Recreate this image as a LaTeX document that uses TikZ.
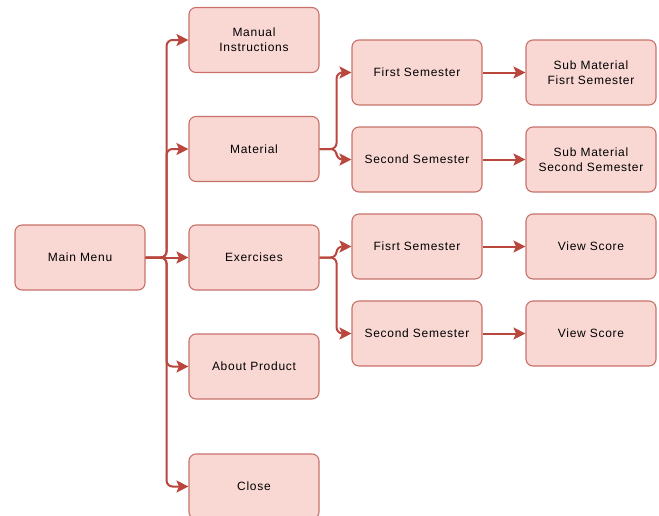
\documentclass[tikz,border=0pt]{standalone}
\usepackage{fontspec}
\setmainfont{Liberation Sans}[LetterSpace=6]
\usetikzlibrary{arrows.meta}
\definecolor{boxfill}{HTML}{F9D8D4}
\definecolor{boxline}{HTML}{C8716A}
\definecolor{arr}{HTML}{B9473E}
\begin{document}
\begin{tikzpicture}[x=1pt,y=-1pt,
  box/.style={draw=boxline, fill=boxfill, line width=1.1pt, rounded corners=7pt,
    minimum width=130pt, minimum height=65pt, align=center,
    font=\fontsize{12}{15}\selectfont, inner sep=0pt},
  conn/.style={draw=arr, line width=2pt, rounded corners=6pt,
    -{Stealth[length=12pt,width=12pt,inset=2.5pt]}}]
\useasboundingbox (0,0) rectangle (659,515);
\node[box] (mm) at (80,257.5) {Main Menu};
\node[box] (mi) at (254,40) {Manual\\Instructions};
\node[box] (mat) at (254,149) {Material};
\node[box] (ex) at (254,257.5) {Exercises};
\node[box] (ap) at (254,366.5) {About Product};
\node[box] (cl) at (254,486.5) {Close};
\node[box] (fs1) at (417,72.5) {First Semester};
\node[box] (ss1) at (417,159.5) {Second Semester};
\node[box] (fs2) at (417,246.5) {Fisrt Semester};
\node[box] (ss2) at (417,333.5) {Second Semester};
\node[box] (sm1) at (591,72.5) {Sub Material\\Fisrt Semester};
\node[box] (sm2) at (591,159.5) {Sub Material\\Second Semester};
\node[box] (vs1) at (591,246.5) {View Score};
\node[box] (vs2) at (591,333.5) {View Score};
\draw[conn] (mm.east) -- ++(21,0) |- (mi.west);
\draw[conn] (mm.east) -- ++(21,0) |- (mat.west);
\draw[conn] (mm.east) -- (ex.west);
\draw[conn] (mm.east) -- ++(21,0) |- (ap.west);
\draw[conn] (mm.east) -- ++(21,0) |- (cl.west);
\draw[conn] (mat.east) -- ++(17,0) |- (fs1.west);
\draw[conn] (mat.east) -- ++(17,0) |- (ss1.west);
\draw[conn] (ex.east) -- ++(17,0) |- (fs2.west);
\draw[conn] (ex.east) -- ++(17,0) |- (ss2.west);
\draw[conn] (fs1.east) -- (sm1.west);
\draw[conn] (ss1.east) -- (sm2.west);
\draw[conn] (fs2.east) -- (vs1.west);
\draw[conn] (ss2.east) -- (vs2.west);
\end{tikzpicture}
\end{document}
